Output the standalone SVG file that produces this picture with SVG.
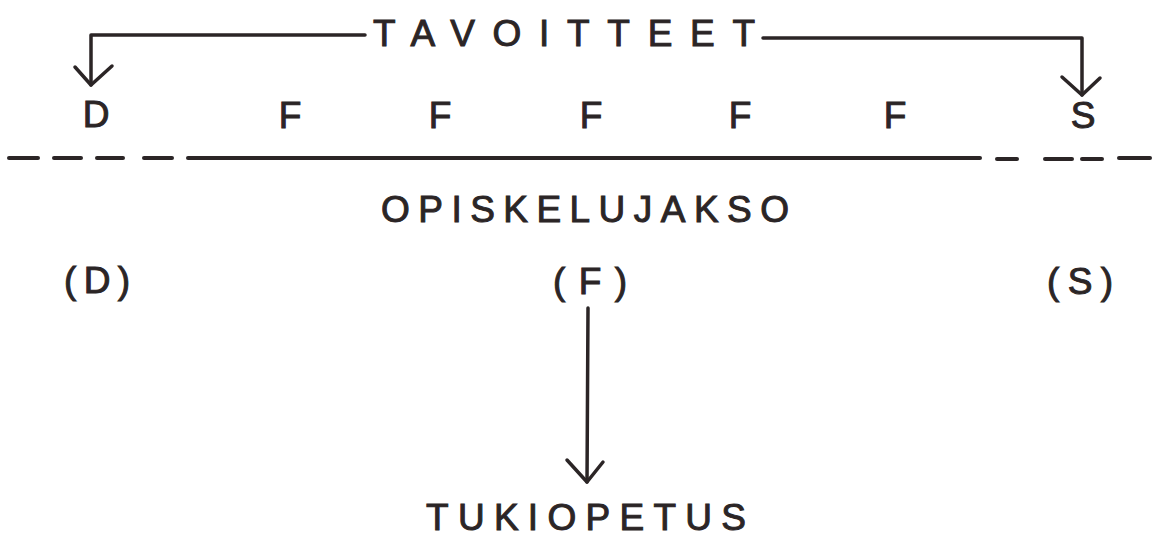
<svg xmlns="http://www.w3.org/2000/svg" width="1152" height="546" viewBox="0 0 1152 546">
  <style>
    .t { font-family: "Liberation Sans", Arial, sans-serif; font-size: 37px; fill: #2b2526; stroke: #2b2526; stroke-width: 1; text-anchor: middle; }
    .ln { fill: none; stroke: #2b2526; stroke-width: 3.5; stroke-linecap: round; stroke-linejoin: round; }
    .dash { fill: none; stroke: #2b2526; stroke-width: 4; stroke-linecap: round; }
  </style>
  <rect width="1152" height="546" fill="#ffffff"/>

  <g id="connectors">
    <path class="ln" d="M365 35 H91 V85"/>
    <path class="ln" d="M75 67 L91 85 L112 66"/>
    <path class="ln" d="M763 38 H1082 V95"/>
    <path class="ln" d="M1062 77 L1082 95 L1100 78"/>
    <path class="ln" d="M588 308 L587 482"/>
    <path class="ln" d="M567 460 L587 482 L603 462"/>
  </g>

  <g id="divider">
    <line class="dash" x1="9" y1="158" x2="38" y2="158"/>
    <line class="dash" x1="54" y1="158" x2="81" y2="158"/>
    <line class="dash" x1="97" y1="158" x2="123" y2="158"/>
    <line class="dash" x1="144" y1="158" x2="172" y2="158"/>
    <line class="dash" x1="188" y1="158" x2="980" y2="158"/>
    <line class="dash" x1="997" y1="159" x2="1017" y2="159"/>
    <line class="dash" x1="1045" y1="159" x2="1072" y2="159"/>
    <line class="dash" x1="1082" y1="159" x2="1102" y2="159"/>
    <line class="dash" x1="1119" y1="158" x2="1150" y2="158"/>
  </g>

  <g id="tavoitteet">
    <text class="t" x="564" y="46" textLength="382" lengthAdjust="spacing">TAVOITTEET</text>
  </g>

  <g id="top-row">
    <text class="t" x="96" y="127">D</text>
    <text class="t" x="290" y="128">F</text>
    <text class="t" x="440" y="128">F</text>
    <text class="t" x="591" y="128">F</text>
    <text class="t" x="740" y="128">F</text>
    <text class="t" x="895" y="128">F</text>
    <text class="t" x="1083" y="128">S</text>
  </g>

  <g id="opiskelujakso">
    <text class="t" x="585" y="222" textLength="408" lengthAdjust="spacing">OPISKELUJAKSO</text>
  </g>

  <g id="d-paren">
    <text class="t" x="97" y="293" textLength="66" lengthAdjust="spacing">(D)</text>
  </g>
  <g id="f-paren">
    <text class="t" x="590" y="294" textLength="74" lengthAdjust="spacing">(F)</text>
  </g>
  <g id="s-paren">
    <text class="t" x="1080" y="294" textLength="66" lengthAdjust="spacing">(S)</text>
  </g>

  <g id="tukiopetus">
    <text class="t" x="586" y="530" textLength="320" lengthAdjust="spacing">TUKIOPETUS</text>
  </g>
</svg>
